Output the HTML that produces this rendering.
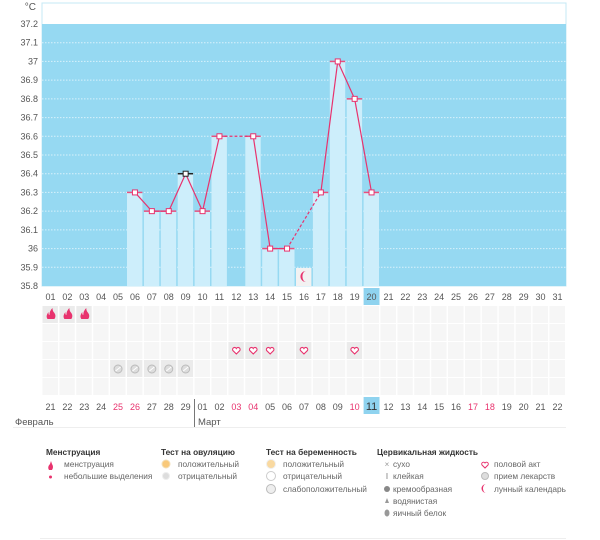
<!DOCTYPE html>
<html><head><meta charset="utf-8">
<style>
body{margin:0;background:#fff;font-family:"Liberation Sans","DejaVu Sans",sans-serif;}
svg{display:block}
text{font-family:"Liberation Sans","DejaVu Sans",sans-serif;}
</style></head>
<body>
<svg id="s" width="600" height="540" xmlns="http://www.w3.org/2000/svg"></svg>
<script>
const s=document.getElementById('s');
let h='';
const X0=42,W=16.9,Y0=24,YB=286,U=(YB-Y0)/14;
const cx=i=>X0+W*(i-0.5);
const yv=v=>YB-(v-35.8)*10*U;
h+=`<rect x="${X0}" y="3" width="524" height="283" fill="#fff" stroke="#c5e8f5"/>`;
h+=`<rect x="${X0}" y="${Y0}" width="524" height="${YB-Y0}" fill="#96d9f2"/>`;
for(let k=1;k<14;k++){h+=`<line x1="${X0}" x2="566" y1="${Y0+k*U}" y2="${Y0+k*U}" stroke="#d8f1fb" stroke-dasharray="1.5,1.5"/>`}
const labs=['37.2','37.1','37','36.9','36.8','36.7','36.6','36.5','36.4','36.3','36.2','36.1','36','35.9','35.8'];
labs.forEach((l,k)=>h+=`<text x="38" y="${Y0+k*U+3}" font-size="9" fill="#555" text-anchor="end">${l}</text>`);
h+=`<text x="36" y="10" font-size="10" fill="#555" text-anchor="end">°C</text>`;
const vals={6:36.3,7:36.2,8:36.2,9:36.4,10:36.2,11:36.6,13:36.6,14:36.0,15:36.0,17:36.3,18:37.0,19:36.8,20:36.3};
for(const d in vals){const x=X0+W*(d-1)+0.5,y=yv(vals[d]);h+=`<rect x="${x}" y="${y}" width="${W-1.5}" height="${YB-y}" fill="#cdeefb"/>`;
h+=`<line x1="${x}" x2="${x+W-1.5}" y1="${y}" y2="${y}" stroke="${d==9?'#222':'#e8507e'}" stroke-width="1.5"/>`}
h+=`<rect x="${X0+W*15+0.5}" y="268" width="${W-1.5}" height="18" fill="#f2f2f2"/>`;
h+=`<path d="M${cx(16)+2},271 a5.5,5.5 0 1,0 0,11 a3.5,5.5 0 1,1 0,-11z" fill="#e8336e"/>`;
const seg=(a,b,dash)=>h+=`<line x1="${cx(a)}" y1="${yv(vals[a])}" x2="${cx(b)}" y2="${yv(vals[b])}" stroke="#e8336e" stroke-width="1.2" ${dash?'stroke-dasharray="3,2"':''}/>`;
[[6,7],[7,8],[8,9],[9,10],[10,11],[13,14],[14,15],[17,18],[18,19],[19,20]].forEach(p=>seg(p[0],p[1],0));
seg(11,13,1);seg(15,17,1);
for(const d in vals){h+=`<rect x="${cx(d)-2.5}" y="${yv(vals[d])-2.5}" width="5" height="5" fill="#fff" stroke="${d==9?'#222':'#e8336e'}"/>`}
h+=`<rect x="${X0+W*19+0.5}" y="288" width="${W-1}" height="17" fill="#8fd3ef"/>`;
for(let i=1;i<=31;i++)h+=`<text x="${cx(i)}" y="300" font-size="9" fill="#555" text-anchor="middle">${String(i).padStart(2,'0')}</text>`;
for(let r=0;r<5;r++)for(let i=1;i<=31;i++){
 const hl=(r==0&&i<=3)||(r==2&&[12,13,14,16,19].includes(i))||(r==3&&i>=5&&i<=9);
 h+=`<rect x="${X0+W*(i-1)+0.5}" y="${306+r*18}" width="${W-1.5}" height="17" fill="${hl?'#ebebeb':'#f6f6f6'}"/>`;}
for(let i=1;i<=3;i++){const x=cx(i),y=315;h+=`<path d="M${x-3},${y+4} q-2,-3 1,-7 q0,3 1,3 q0,-4 3,-7 q0,3 2,5 q2,3 0,6z" fill="#e8336e"/>`}
[12,13,14,16,19].forEach(i=>{const x=cx(i),y=351;h+=`<path d="M${x},${y+3} l-3.5,-3.5 a1.8,1.8 0 0,1 3.5,-2 a1.8,1.8 0 0,1 3.5,2z" fill="#fff" stroke="#e8336e" stroke-width="1.1"/>`});
for(let i=5;i<=9;i++){const x=cx(i);h+=`<circle cx="${x}" cy="369" r="4" fill="#ddd" stroke="#bbb"/><line x1="${x-2.5}" y1="371" x2="${x+2.5}" y2="367" stroke="#fff"/>`}
h+=`<rect x="${X0+W*19+0.5}" y="397" width="${W-1}" height="17" fill="#8fd3ef"/>`;
const bd=['21','22','23','24','25','26','27','28','29','01','02','03','04','05','06','07','08','09','10','11','12','13','14','15','16','17','18','19','20','21','22'];
const red=[4,5,11,12,18,25,26];
bd.forEach((d,k)=>h+=`<text x="${cx(k+1)}" y="410" font-size="${k==19?11:9}" fill="${red.includes(k)?'#e8336e':(k==19?'#333':'#555')}" text-anchor="middle">${d}</text>`);
h+=`<line x1="194.5" x2="194.5" y1="399" y2="427" stroke="#777"/>`;
h+=`<text x="15" y="425" font-size="9.5" fill="#555">Февраль</text><text x="198" y="425" font-size="9.5" fill="#555">Март</text>`;
h+=`<line x1="13" x2="566" y1="427.5" y2="427.5" stroke="#eee"/>`;
const t=(x,y,s,b)=>h+=`<text x="${x}" y="${y}" font-size="8.3" fill="${b?'#333':'#666'}" ${b?'font-weight="bold"':''}>${s}</text>`;
t(46,455,'Менструация',1);t(161,455,'Тест на овуляцию',1);t(266,455,'Тест на беременность',1);t(377,455,'Цервикальная жидкость',1);
t(64,467,'менструация');t(64,479,'небольшие выделения');
h+=`<path d="M49,470 q-2,-3 1,-6 l1,-3 l1,3 q2,3 0,6z" fill="#e8336e"/><circle cx="50.5" cy="477" r="1.5" fill="#e8336e"/>`;
t(178,467,'положительный');t(178,479,'отрицательный');
h+=`<circle cx="166" cy="464" r="4" fill="#f9c97a" stroke="#f3e0b8"/><circle cx="166" cy="476" r="3.5" fill="#ddd" stroke="#eee"/>`;
t(283,467,'положительный');t(283,479,'отрицательный');t(283,492,'слабоположительный');
h+=`<circle cx="271" cy="464" r="4.5" fill="#f9d9a0" stroke="#eee"/><circle cx="271" cy="476" r="4.5" fill="#fff" stroke="#ccc"/><circle cx="271" cy="489" r="4.5" fill="#eee" stroke="#bbb"/>`;
t(393,467,'сухо');t(393,479,'клейкая');t(393,492,'кремообразная');t(393,504,'водянистая');t(393,516,'яичный белок');
h+=`<text x="387" y="467" font-size="8" fill="#999" text-anchor="middle">×</text><text x="387" y="479" font-size="8" fill="#777" text-anchor="middle">I</text><circle cx="387" cy="489" r="3" fill="#888"/><path d="M387,498 l2,5 h-4z" fill="#999"/><ellipse cx="387" cy="513" rx="2.5" ry="3.5" fill="#999"/>`;
t(494,467,'половой акт');t(494,479,'прием лекарств');t(494,492,'лунный календарь');
h+=`<path d="M485,468 l-3,-3 a1.6,1.6 0 0,1 3,-2 a1.6,1.6 0 0,1 3,2z" fill="#fff" stroke="#e8336e"/><circle cx="485" cy="476" r="3.5" fill="#ddd" stroke="#bbb"/><path d="M486,484 a4.5,4.5 0 1,0 0,9 a3,4.5 0 1,1 0,-9z" fill="#e8336e"/>`;
h+=`<line x1="40" x2="566" y1="538.5" y2="538.5" stroke="#eee"/>`;
s.innerHTML=h;
</script>
</body></html>
